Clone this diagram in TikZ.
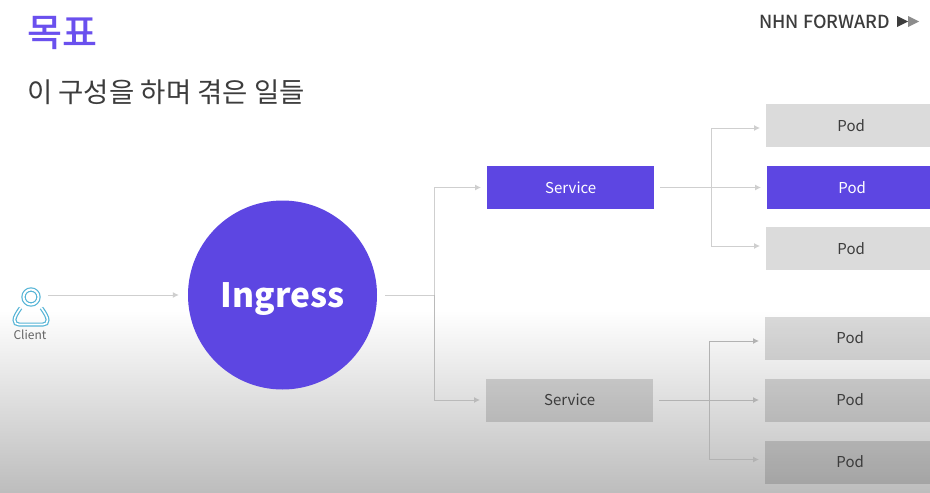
\documentclass[tikz,border=0pt]{standalone}
\usepackage{fontspec}
\setmainfont{Noto Sans CJK KR}
\newfontfamily\MediumFont{Noto Sans CJK KR Medium}
\definecolor{IngressClr}{HTML}{5D46E2}
\definecolor{TitleClr}{HTML}{6A50EE}
\definecolor{TextClr}{HTML}{3C3C3C}
\definecolor{LinkClr}{HTML}{CFCFCF}
\definecolor{LowLinkClr}{HTML}{B2B2B2}
\definecolor{ClientClr}{HTML}{55B4D6}
\tikzset{
  GrayBox/.style={fill=black,fill opacity=.14,text opacity=1,text=TextClr,font=\fontsize{15}{15}\selectfont,minimum height=43pt,inner sep=0pt,text height=12pt,text depth=1pt,anchor=west},
  PurpleBox/.style={fill=IngressClr,text=white,font=\fontsize{15}{15}\selectfont,minimum height=43pt,inner sep=0pt,text height=12pt,text depth=1pt,anchor=west},
  Link/.style={draw=LinkClr,line width=1pt},
  LinkTo/.style={Link,-{Latex[length=6pt,width=6pt]},shorten >=6pt},
  LowLink/.style={LinkTo,draw=LowLinkClr}
}
\usetikzlibrary{arrows.meta}
\begin{document}
\begin{tikzpicture}[x=1pt,y=-1pt]
\useasboundingbox (0,0) rectangle (930,493);
\fill[white] (0,0) rectangle (930,493);
\shade[top color=white,bottom color=black!26] (0,310) rectangle (930,493);

\node[anchor=west,text=TitleClr,font=\fontsize{38}{38}\MediumFont,inner sep=0pt] (Title) at (27,33) {목표};
\node[anchor=west,text=TextClr,font=\fontsize{27.5}{28}\selectfont,inner sep=0pt] (SubTitle) at (27,92) {이 구성을 하며 겪은 일들};
\node[anchor=west,text=TextClr,font=\fontsize{18}{18}\MediumFont,inner sep=0pt] (Brand) at (759,22) {NHN FORWARD};
\fill[TextClr] (897,16) -- (908,21.5) -- (897,27) -- cycle;
\fill[black!45] (908,16) -- (919,21.5) -- (908,27) -- cycle;

\draw[ClientClr,line width=1.2pt,double=white,double distance=2pt] (31,297) circle (7.5pt);
\draw[ClientClr,line width=1.2pt,double=white,double distance=1.6pt] (20.5,308) .. controls (17,313) and (14.5,317) .. (14.5,320) .. controls (14.5,323) and (16,324.5) .. (19,324.5) -- (43,324.5) .. controls (46,324.5) and (47.5,323) .. (47.5,320) .. controls (47.5,317) and (45,313) .. (41.5,308);
\node[text=TextClr!80,font=\fontsize{12}{12}\selectfont,inner sep=0pt] (ClientText) at (30,335) {Client};
\coordinate (Client) at (48,295);

\node[circle,fill=IngressClr,text=white,minimum size=189pt,inner sep=0pt,text height=26pt,text depth=2pt,font=\fontsize{33.5}{34}\bfseries\selectfont] (Ingress) at (282.5,295) {Ingress};

\node[PurpleBox,minimum width=167pt] (ServiceA) at (487,187.5) {Service};
\node[GrayBox,minimum width=167pt] (ServiceB) at (486,400) {Service};

\node[GrayBox,minimum width=170pt] (PodA) at (766,125.5) {Pod};
\node[PurpleBox,minimum width=170pt] (PodB) at (767,187.5) {Pod};
\node[GrayBox,minimum width=170pt] (PodC) at (766,248.5) {Pod};
\node[GrayBox,minimum width=170pt] (PodD) at (765,338) {Pod};
\node[GrayBox,minimum width=170pt] (PodE) at (765,400) {Pod};
\node[GrayBox,minimum width=170pt] (PodF) at (765,462) {Pod};

\coordinate (Fork) at (434,295);
\coordinate (ForkA) at (711,187.5);
\coordinate (ForkB) at (709,400);

\draw[LinkTo,shorten >=9pt] (Client) -- (Ingress.west);
\draw[Link,shorten <=8pt] (Ingress.east) -- (Fork);
\draw[LinkTo] (Fork) |- (ServiceA.west);
\draw[LinkTo,draw=LinkClr!90!black] (Fork) |- (ServiceB.west);

\draw[LinkTo,shorten <=6pt] (ServiceA.east) -- (PodB.west);
\draw[LinkTo] (ForkA) |- ([yshift=-2.5pt]PodA.west);
\draw[LinkTo] (ForkA) |- ([yshift=2.5pt]PodC.west);

\draw[LowLink,shorten <=6pt] (ServiceB.east) -- (PodE.west);
\draw[LowLink] (ForkB) |- ([yshift=-3pt]PodD.west);
\draw[LowLink] (ForkB) |- ([yshift=2.5pt]PodF.west);
\end{tikzpicture}
\end{document}
